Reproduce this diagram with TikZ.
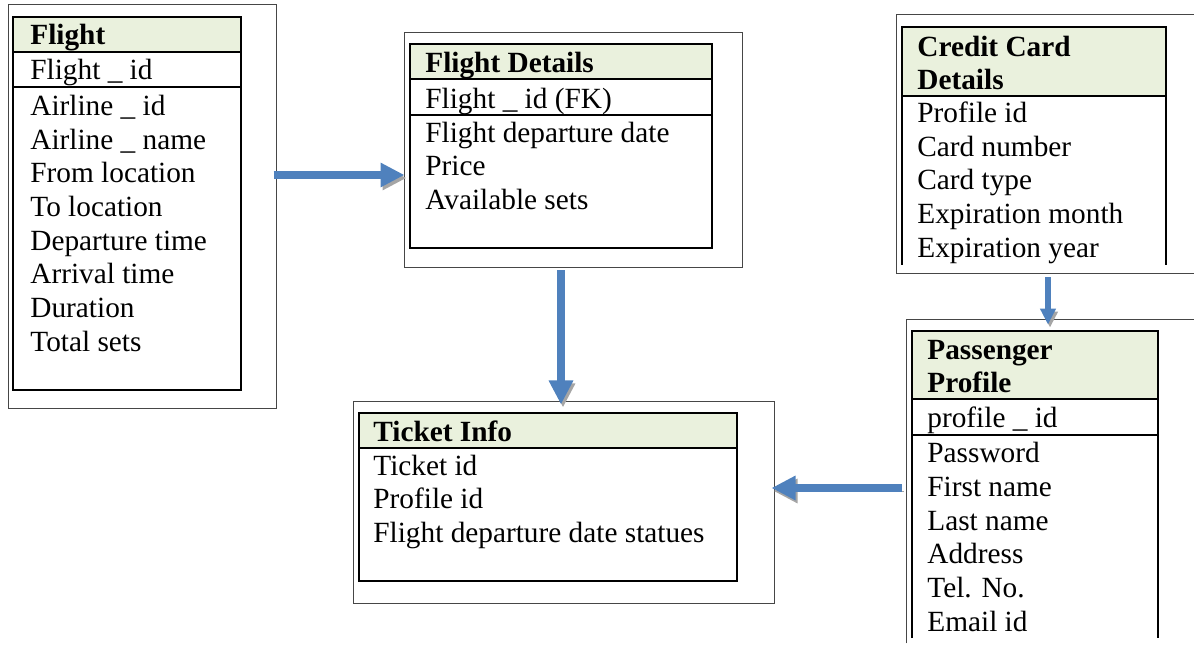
\documentclass[tikz,border=0pt]{standalone}
\usepackage{fontspec}
\setmainfont{Liberation Serif}
\usetikzlibrary{arrows.meta,fit,calc}

\definecolor{arrowblue}{RGB}{79,129,189}
\definecolor{headgreen}{RGB}{234,241,221}
\definecolor{framegray}{RGB}{70,70,70}
\definecolor{shadowgray}{RGB}{165,165,165}

\begin{document}
\begin{tikzpicture}[x=0.5pt, y=-0.5pt,
        entframe/.style={draw=framegray, line width=0.5pt, inner sep=0pt},
        frameline/.style={draw=framegray, line width=0.5pt},
        enttab/.style={draw=black, line width=0.8pt, inner sep=0pt},
        tabline/.style={draw=black, line width=0.8pt},
        headfill/.style={fill=headgreen},
        field/.style={anchor=base west, inner sep=0pt, font=\fontsize{14.65}{16.8}\selectfont},
        headtext/.style={field, font=\fontsize{14.65}{16.8}\selectfont\bfseries},
        bigarrow/.style={draw=arrowblue, line width=3.7pt, -{Triangle[width=11.5pt,length=12pt]},
            preaction={draw=shadowgray, transform canvas={shift={(1pt,-1.5pt)}}}},
        smallarrow/.style={bigarrow, line width=3pt, -{Triangle[width=7.5pt,length=8pt]}}]

    \path[use as bounding box, clip] (0,0) rectangle (1194,646);

    % Flight
    \node[entframe, fit={(8,5) (276,409)}] (flightFrame) {};
    \fill[headfill] (13,17) rectangle (241,52);
    \node[enttab, fit={(13,17) (241,390)}] (flight) {};
    \draw[tabline] (13,52) -- (241,52) (13,87) -- (241,87);
    \node[headtext] (flightHead) at (30,44.5) {Flight};
    \node[field] (flightKey) at (30,79.5) {Flight \_ id};
    \foreach \txt [count=\i] in {Airline \_ id, Airline \_ name, From location, To location,
            Departure time, Arrival time, Duration, Total sets}
        \node[field] (flightF\i) at (30,81.8+33.7*\i) {\txt};

    % Flight Details
    \node[entframe, fit={(404,33) (742,268)}] (detailsFrame) {};
    \fill[headfill] (410,44) rectangle (712,79);
    \node[enttab, fit={(410,44) (712,248)}] (details) {};
    \draw[tabline] (410,79) -- (712,79) (410,115) -- (712,115);
    \node[headtext] (detailsHead) at (425,72.5) {Flight Details};
    \node[field] (detailsKey) at (425,108.5) {Flight \_ id (FK)};
    \foreach \txt [count=\i] in {Flight departure date, Price, Available sets}
        \node[field] (detailsF\i) at (425,109+33.5*\i) {\txt};

    % Ticket Info
    \node[entframe, fit={(353,402) (774,603)}] (ticketFrame) {};
    \fill[headfill] (359,413) rectangle (737,448);
    \node[enttab, fit={(359,413) (737,581)}] (ticket) {};
    \draw[tabline] (359,448) -- (737,448);
    \node[headtext] (ticketHead) at (373,441.5) {Ticket Info};
    \foreach \txt [count=\i] in {Ticket id, Profile id, Flight departure date statues}
        \node[field] (ticketF\i) at (373,442+33.5*\i) {\txt};

    % Credit Card Details
    \node[entframe, fit={(896,15) (1210,274)}] (creditFrame) {};
    \fill[headfill] (902,27) rectangle (1166,96);
    \draw[tabline] (902,265) -- (902,27) -- (1166,27) -- (1166,265) (902,96) -- (1166,96);
    \node[headtext] (creditHeadA) at (917,56.5) {Credit Card};
    \node[headtext] (creditHeadB) at (917,89.5) {Details};
    \foreach \txt [count=\i] in {Profile id, Card number, Card type, Expiration month, Expiration year}
        \node[field] (creditF\i) at (917,88.75+33.75*\i) {\txt};

    % Passenger Profile (cut off at the page edge)
    \node[inner sep=0pt, fit={(907,320) (1210,643)}] (passFrame) {};
    \draw[frameline] (passFrame.south west) |- (passFrame.north east);
    \fill[headfill] (912,331) rectangle (1158,399);
    \draw[tabline] (912,638) -- (912,331) -- (1158,331) -- (1158,638)
        (912,399) -- (1158,399) (912,435) -- (1158,435);
    \node[headtext] (passHeadA) at (927,359.5) {Passenger};
    \node[headtext] (passHeadB) at (927,392.5) {Profile};
    \node[field] (passKey) at (927,427.5) {profile \_ id};
    \foreach \txt [count=\i] in {Password, First name, Last name, Address, Tel. No., Email id}
        \node[field] (passF\i) at (927,428.7+33.8*\i) {\txt};

    % links
    \draw[bigarrow] ($(flightFrame.east |- 0,175)+(-3,0)$) -- ($(detailsFrame.west |- 0,175)+(1,0)$);
    \draw[bigarrow] ($(detailsFrame.south -| 561,0)+(0,2)$) -- ($(ticketFrame.north -| 561,0)+(0,3)$);
    \draw[smallarrow] ($(creditFrame.south -| 1048,0)+(0,3)$) -- ($(passFrame.north -| 1048,0)+(0,5)$);
    \draw[bigarrow] ($(passFrame.west |- 0,488)+(-5,0)$) -- ($(ticketFrame.east |- 0,488)+(-3,0)$);
\end{tikzpicture}
\end{document}
